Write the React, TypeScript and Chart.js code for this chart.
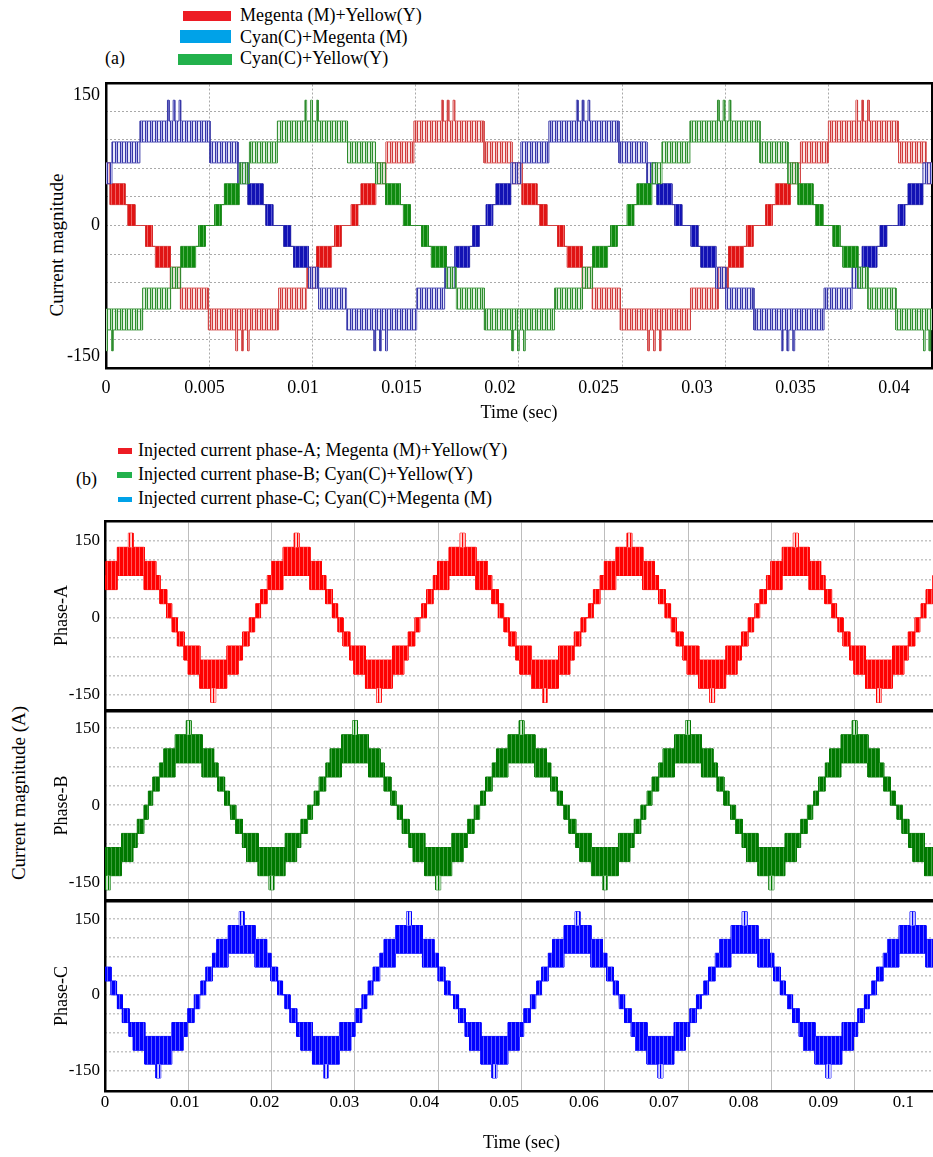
import React, { useEffect, useRef } from 'react';
import { Chart, registerables } from 'chart.js';

Chart.register(...registerables);

const FONT = '"Liberation Serif", "Times New Roman", Times, serif';

type Row = [number, number, number, number, string];

// ================= Panel (a) =================
const SERIES_A_LABELS = ['Megenta (M)+Yellow(Y)', 'Cyan(C)+Megenta (M)', 'Cyan(C)+Yellow(Y)'];
const TIME_TICKS_A = [0, 0.005, 0.01, 0.015, 0.02, 0.025, 0.03, 0.035, 0.04];
const Y_TICKS_A = [150, 0, -150];
const GRID_X_A = [0.005241, 0.010482, 0.015723, 0.020964, 0.026205, 0.031447, 0.036688];
const GRID_Y_A = [131.2, 98.4, 65.6, 32.8, 0, -32.8, -65.6, -98.4, -131.2];
const LEVELS_A = [0, 24, 48, 72, 96, 120, 144];
// stair around a positive extreme: [start ms, end ms, low level idx, high level idx, kind]
const STAIR_A: Row[] = [
  [-6.0, -4.97, 0, 0, 'flat'],
  [-4.97, -4.62, 0, 1, 'dense'],
  [-4.62, -4.47, 1, 1, 'flat'],
  [-4.47, -3.71, 1, 2, 'dense'],
  [-3.71, -3.2, 2, 3, 'sparse'],
  [-3.2, -1.78, 3, 4, 'sparse'],
  [-1.78, -0.38, 4, 5, 'sparse'],
  [-0.38, -0.3, 4, 6, 'sparse'],
  [-0.3, -0.09, 4, 5, 'sparse'],
  [-0.09, -0.01, 4, 6, 'sparse'],
  [-0.01, 0.21, 4, 5, 'sparse'],
  [0.21, 0.29, 4, 6, 'sparse'],
  [0.29, 1.78, 4, 5, 'sparse'],
  [1.78, 3.2, 3, 4, 'sparse'],
  [3.2, 3.71, 2, 3, 'sparse'],
  [3.71, 4.47, 1, 2, 'dense'],
  [4.47, 4.62, 1, 1, 'flat'],
  [4.62, 4.97, 0, 1, 'dense'],
  [4.97, 6.0, 0, 0, 'flat'],
];
const MY_PEAKS_A = [-0.0035, 0.01741, 0.03845];
const MY_TROUGHS_A = [0.00698, 0.02789];
const CM_PEAKS_A = [0.0035, 0.02426, 0.04518];
const CM_TROUGHS_A = [0.01399, 0.03467];
const CY_PEAKS_A = [0.01048, 0.03142];
const CY_TROUGHS_A = [0.00008, 0.02099, 0.04188];

// ================= Panel (b) =================
const SERIES_B_LABELS = [
  'Injected current phase-A; Megenta (M)+Yellow(Y)',
  'Injected current phase-B; Cyan(C)+Yellow(Y)',
  'Injected current phase-C; Cyan(C)+Megenta (M)',
];
const PHASE_TITLES_B = ['Phase-A', 'Phase-B', 'Phase-C'];
const TIME_TICKS_B = [0, 0.01, 0.02, 0.03, 0.04, 0.05, 0.06, 0.07, 0.08, 0.09, 0.1];
const Y_TICKS_B = [150, 0, -150];
const GRID_X_B = [0.010435, 0.02087, 0.031305, 0.04174, 0.052175, 0.06261, 0.073045, 0.08348, 0.093915];
const GRID_Y_B = [151, 113, 75, 38, 0, -38, -75, -113, -151];
const LEVELS_B = [0, 27.5, 55, 82.5, 110, 137.5, 165];
const STAIR_B: Row[] = [
  [-6.0, -5.12, 0, 0, 'flat'],
  [-5.12, -4.5, 0, 1, 'dense'],
  [-4.5, -3.66, 1, 2, 'dense'],
  [-3.66, -3.13, 2, 3, 'dense'],
  [-3.13, -1.69, 2, 4, 'dense'],
  [-1.69, -0.3, 3, 5, 'dense'],
  [-0.3, 0.3, 3, 6, 'spike'],
  [0.3, 1.69, 3, 5, 'dense'],
  [1.69, 3.13, 2, 4, 'dense'],
  [3.13, 3.66, 2, 3, 'dense'],
  [3.66, 4.5, 1, 2, 'dense'],
  [4.5, 5.12, 0, 1, 'dense'],
  [5.12, 6.0, 0, 0, 'flat'],
];
const PA_PEAKS_B = [0.00323, 0.02399, 0.04478, 0.06568, 0.08652, 0.10735];
const PA_TROUGHS_B = [0.01357, 0.03432, 0.05512, 0.07607, 0.09696];
const PB_PEAKS_B = [0.01048, 0.03132, 0.05217, 0.07303, 0.09389];
const PB_TROUGHS_B = [0.00038, 0.02088, 0.04175, 0.06263, 0.08349, 0.10435];
const PC_PEAKS_B = [-0.00373, 0.01712, 0.03808, 0.05919, 0.08011, 0.10115];
const PC_TROUGHS_B = [0.00668, 0.02768, 0.04879, 0.06959, 0.09063];

// ================= helpers =================
function stripePattern(cols: string[]): any {
  const c = document.createElement('canvas');
  c.width = cols.length;
  c.height = 2;
  const g = c.getContext('2d')!;
  cols.forEach((col, i) => {
    g.fillStyle = col;
    g.fillRect(i, 0, 1, 2);
  });
  return g.createPattern(c, 'repeat') || cols[0];
}

function buildRows(peaks: number[], troughs: number[], stair: Row[], levels: number[]) {
  const ext = [
    ...peaks.map((t) => ({ t, s: 1 })),
    ...troughs.map((t) => ({ t, s: -1 })),
  ].sort((a, b) => a.t - b.t);
  const rows: any[] = [];
  ext.forEach((e, i) => {
    const lo = i > 0 ? (ext[i - 1].t + e.t) / 2 : -Infinity;
    const hi = i < ext.length - 1 ? (e.t + ext[i + 1].t) / 2 : Infinity;
    for (const [a, b, l, h, kind] of stair) {
      const t0 = Math.max(e.t + a / 1000, lo);
      const t1 = Math.min(e.t + b / 1000, hi);
      if (t1 <= t0) continue;
      let low: number, high: number, mid: number;
      if (e.s > 0) {
        low = levels[l];
        high = levels[h];
        mid = h > 0 ? levels[h - 1] : levels[0];
      } else {
        low = -levels[h];
        high = -levels[l];
        mid = h > 0 ? -levels[h - 1] : levels[0];
      }
      rows.push({ t0, t1, low, high, mid, kind, s: e.s });
    }
  });
  return rows;
}

function phaseDatasets(peaks: number[], troughs: number[], stair: Row[], levels: number[], st: any) {
  const rows = buildRows(peaks, troughs, stair, levels);
  const up: any[] = [], lo: any[] = [], dU: any[] = [], dL: any[] = [], sU: any[] = [], sL: any[] = [];
  const add = (arr: any[], r: any, v: number) => {
    arr.push({ x: r.t0, y: v }, { x: r.t1, y: v });
  };
  rows.forEach((r) => {
    let dLo = r.low, dHi = r.low, sLo = r.low, sHi = r.low;
    if (r.kind === 'dense') {
      dHi = r.high;
    } else if (r.kind === 'sparse') {
      sHi = r.high;
    } else if (r.kind === 'spike') {
      if (r.s > 0) {
        dLo = r.low; dHi = r.mid; sLo = r.mid; sHi = r.high;
      } else {
        dLo = r.mid; dHi = r.high; sLo = r.low; sHi = r.mid;
      }
    }
    add(up, r, r.high);
    add(lo, r, r.low);
    add(dU, r, dHi);
    add(dL, r, dLo);
    add(sU, r, sHi);
    add(sL, r, sLo);
  });
  const base = {
    pointRadius: 0,
    pointHoverRadius: 0,
    tension: 0,
    borderWidth: 0,
    borderColor: 'rgba(0,0,0,0)',
    fill: false,
    xAxisID: 'x',
    yAxisID: 'y',
  };
  return [
    { ...base, data: dU },
    { ...base, data: dL, fill: '-1', backgroundColor: st.dense },
    { ...base, data: sU },
    { ...base, data: sL, fill: '-1', backgroundColor: st.sparse },
    { ...base, data: up, borderWidth: 1, borderColor: st.line },
    { ...base, data: lo, borderWidth: 1, borderColor: st.line },
  ];
}

function makeConfig(o: any): any {
  const setTicks = (vals: number[]) => (s: any) => {
    s.ticks = vals.map((v) => ({ value: v }));
  };
  const noPad = (s: any) => {
    s.paddingTop = 0;
    s.paddingBottom = 0;
    s.paddingLeft = 0;
    s.paddingRight = 0;
  };
  return {
    type: 'line',
    data: { datasets: o.datasets },
    options: {
      responsive: false,
      animation: false,
      events: [],
      layout: { padding: o.padding },
      plugins: { legend: { display: false }, tooltip: { enabled: false } },
      scales: {
        x: {
          type: 'linear',
          position: 'bottom',
          min: 0,
          max: o.xMax,
          afterBuildTicks: setTicks(o.xTicks),
          afterFit: (s: any) => {
            s.height = o.xAxisHeight;
            noPad(s);
          },
          ticks: {
            display: o.showXLabels,
            autoSkip: false,
            maxRotation: 0,
            padding: o.xTickPad,
            color: '#000',
            font: { family: FONT, size: o.tickSize },
            callback: (v: any) => String(v),
          },
          grid: { display: false, drawTicks: false },
          border: { display: true, color: '#000', width: 2.5 },
          title: {
            display: !!o.xTitle,
            text: o.xTitle || '',
            color: '#000',
            font: { family: FONT, size: 18 },
            padding: { top: 0, bottom: o.xTitlePad || 0 },
          },
        },
        xg: {
          type: 'linear',
          position: 'top',
          min: 0,
          max: o.xMax,
          afterBuildTicks: setTicks(o.xGrid),
          afterFit: (s: any) => {
            s.height = 0;
            noPad(s);
          },
          ticks: { display: false },
          grid: { display: true, drawTicks: false, color: o.vGridColor, lineWidth: o.vGridWidth },
          border: { display: true, color: '#000', width: 2.5, dash: o.vGridDash },
        },
        y: {
          type: 'linear',
          position: 'left',
          min: o.yMin,
          max: o.yMax,
          afterBuildTicks: setTicks(o.yTicks),
          afterFit: (s: any) => {
            s.width = o.yAxisWidth;
            noPad(s);
          },
          ticks: {
            padding: o.yTickPad,
            color: '#000',
            font: { family: FONT, size: o.tickSize },
            callback: (v: any) => String(v),
          },
          grid: { display: false, drawTicks: false },
          border: { display: true, color: '#000', width: 2.5 },
          title: {
            display: !!o.yTitle,
            text: o.yTitle || '',
            color: '#000',
            font: { family: FONT, size: 18 },
            padding: { top: o.yTitlePad || 0, bottom: 0 },
          },
        },
        yg: {
          type: 'linear',
          position: 'right',
          min: o.yMin,
          max: o.yMax,
          afterBuildTicks: setTicks(o.yGrid),
          afterFit: (s: any) => {
            s.width = 0;
            noPad(s);
          },
          ticks: { display: false },
          grid: { display: true, drawTicks: false, color: o.hGridColor, lineWidth: o.hGridWidth },
          border: { display: true, color: '#000', width: 2.5, dash: o.hGridDash },
        },
      },
    },
  };
}

// ================= chart builders =================
function buildChartA() {
  const styles = {
    MY: {
      dense: stripePattern(['#e01414', '#e01414', '#e01414', '#ef6060']),
      sparse: stripePattern(['#cf3c3c', '#f3b4b4', '#cf3c3c', 'rgba(240,150,150,0.22)', 'rgba(240,150,150,0.22)']),
      line: '#d04040',
    },
    CM: {
      dense: stripePattern(['#1212b4', '#1212b4', '#1212b4', '#5656d0']),
      sparse: stripePattern(['#3636a6', '#b0b0ea', '#3636a6', 'rgba(150,150,230,0.22)', 'rgba(150,150,230,0.22)']),
      line: '#3838a6',
    },
    CY: {
      dense: stripePattern(['#0f8a0f', '#0f8a0f', '#0f8a0f', '#52b052']),
      sparse: stripePattern(['#2e8c2e', '#b0dcb0', '#2e8c2e', 'rgba(140,210,140,0.22)', 'rgba(140,210,140,0.22)']),
      line: '#2e8c2e',
    },
  };
  const datasets = [
    ...phaseDatasets(CY_PEAKS_A, CY_TROUGHS_A, STAIR_A, LEVELS_A, styles.CY),
    ...phaseDatasets(CM_PEAKS_A, CM_TROUGHS_A, STAIR_A, LEVELS_A, styles.CM),
    ...phaseDatasets(MY_PEAKS_A, MY_TROUGHS_A, STAIR_A, LEVELS_A, styles.MY),
  ];
  return makeConfig({
    datasets,
    padding: { left: 0, right: 1, top: 13, bottom: 0 },
    xMax: 0.04193,
    xTicks: TIME_TICKS_A,
    xGrid: GRID_X_A,
    showXLabels: true,
    xTickPad: 9,
    xTitle: 'Time (sec)',
    xTitlePad: 6,
    xAxisHeight: 62,
    tickSize: 18,
    yMin: -163.8,
    yMax: 163.8,
    yTicks: Y_TICKS_A,
    yGrid: GRID_Y_A,
    yTickPad: 6,
    yAxisWidth: 106,
    vGridColor: '#a9a9a9',
    vGridWidth: 1,
    vGridDash: [2, 2],
    hGridColor: '#a9a9a9',
    hGridWidth: 1,
    hGridDash: [2, 2],
  });
}

const B_STYLES = [
  {
    dense: ['#ff0000', '#ff0000', '#ff0000', '#ff5a5a'],
    sparse: ['#ff0000', '#ffb4b4', '#ffd6d6'],
    line: '#ff0000',
  },
  {
    dense: ['#007800', '#007800', '#007800', '#3e9e3e'],
    sparse: ['#007800', '#a8d8a8', '#cfe9cf'],
    line: '#007800',
  },
  {
    dense: ['#0000ff', '#0000ff', '#0000ff', '#5a5aff'],
    sparse: ['#0000ff', '#b4b4ff', '#d6d6ff'],
    line: '#0000ff',
  },
];

function buildPhase(idx: number) {
  const peaks = [PA_PEAKS_B, PB_PEAKS_B, PC_PEAKS_B][idx];
  const troughs = [PA_TROUGHS_B, PB_TROUGHS_B, PC_TROUGHS_B][idx];
  const s = B_STYLES[idx];
  const st = { dense: stripePattern(s.dense), sparse: stripePattern(s.sparse), line: s.line };
  const datasets = phaseDatasets(peaks, troughs, STAIR_B, LEVELS_B, st);
  const yRange = [
    [-179.8, 188.8],
    [-184.9, 183.8],
    [-190.8, 186.2],
  ][idx];
  const last = idx === 2;
  const padding = [
    { left: 0, right: 2, top: 16, bottom: 1 },
    { left: 0, right: 2, top: 5, bottom: 2 },
    { left: 0, right: 2, top: 5, bottom: 0 },
  ][idx];
  return makeConfig({
    datasets,
    padding,
    xMax: 0.10435,
    xTicks: TIME_TICKS_B,
    xGrid: GRID_X_B,
    showXLabels: last,
    xTickPad: 1,
    xTitle: last ? 'Time (sec)' : '',
    xTitlePad: 3,
    xAxisHeight: last ? 66 : 0,
    tickSize: 17,
    yMin: yRange[0],
    yMax: yRange[1],
    yTicks: Y_TICKS_B,
    yGrid: GRID_Y_B,
    yTickPad: 5,
    yTitle: PHASE_TITLES_B[idx],
    yTitlePad: 51,
    yAxisWidth: 105,
    vGridColor: '#bdbdbd',
    vGridWidth: 1,
    vGridDash: [],
    hGridColor: '#c4c4c4',
    hGridWidth: 1.5,
    hGridDash: [2, 2],
  });
}

// ================= components =================
function ChartCanvas({ top, width, height, build }: { top: number; width: number; height: number; build: () => any }) {
  const ref = useRef<HTMLCanvasElement>(null);
  useEffect(() => {
    const chart = new Chart(ref.current as HTMLCanvasElement, build());
    return () => chart.destroy();
  }, []);
  return (
    <canvas
      ref={ref}
      width={width}
      height={height}
      style={{ position: 'absolute', left: 0, top, width, height, display: 'block' }}
    />
  );
}

function Txt({ left, cy, size, children }: { left: number; cy: number; size: number; children: any }) {
  return (
    <div
      style={{
        position: 'absolute',
        left,
        top: cy - size * 0.62,
        fontSize: size,
        lineHeight: 1.2,
        whiteSpace: 'nowrap',
      }}
    >
      {children}
    </div>
  );
}

function VTxt({ cx, cy, size, children }: { cx: number; cy: number; size: number; children: any }) {
  return (
    <div
      style={{
        position: 'absolute',
        left: cx,
        top: cy,
        fontSize: size,
        lineHeight: 1.2,
        whiteSpace: 'nowrap',
        transform: 'translate(-50%, -50%) rotate(-90deg)',
      }}
    >
      {children}
    </div>
  );
}

function Box({ left, top, w, h, color }: { left: number; top: number; w: number; h: number; color: string }) {
  return <div style={{ position: 'absolute', left, top, width: w, height: h, background: color }} />;
}

export default function App() {
  return (
    <div
      style={{
        position: 'absolute',
        left: 0,
        top: 0,
        width: 933,
        height: 1157,
        overflow: 'hidden',
        background: '#fff',
        fontFamily: FONT,
        color: '#000',
      }}
    >
      {/* legend (a) */}
      <Box left={183} top={11} w={48} h={10} color="#ed1c24" />
      <Txt left={240} cy={16} size={18}>{SERIES_A_LABELS[0]}</Txt>
      <Box left={180} top={30} w={51} h={13} color="#00a2e8" />
      <Txt left={240} cy={38} size={18}>{SERIES_A_LABELS[1]}</Txt>
      <Box left={178} top={54} w={54} h={11} color="#22b14c" />
      <Txt left={240} cy={59} size={18}>{SERIES_A_LABELS[2]}</Txt>
      <Txt left={105} cy={59} size={18}>(a)</Txt>
      <VTxt cx={57} cy={245} size={19}>Current magnitude</VTxt>
      <ChartCanvas top={70} width={933} height={360} build={buildChartA} />

      {/* legend (b) */}
      <Box left={118} top={448} w={14} h={6} color="#ed1c24" />
      <Txt left={138} cy={451} size={18}>{SERIES_B_LABELS[0]}</Txt>
      <Box left={117} top={472} w={15} h={6} color="#22b14c" />
      <Txt left={138} cy={475} size={18}>{SERIES_B_LABELS[1]}</Txt>
      <Box left={118} top={497} w={14} h={5} color="#00a2e8" />
      <Txt left={138} cy={499} size={18}>{SERIES_B_LABELS[2]}</Txt>
      <Txt left={76} cy={480} size={18}>(b)</Txt>
      <VTxt cx={19} cy={793} size={19}>Current magnitude (A)</VTxt>
      <ChartCanvas top={505} width={940} height={206} build={() => buildPhase(0)} />
      <ChartCanvas top={706} width={940} height={196} build={() => buildPhase(1)} />
      <ChartCanvas top={896} width={940} height={261} build={() => buildPhase(2)} />
    </div>
  );
}
